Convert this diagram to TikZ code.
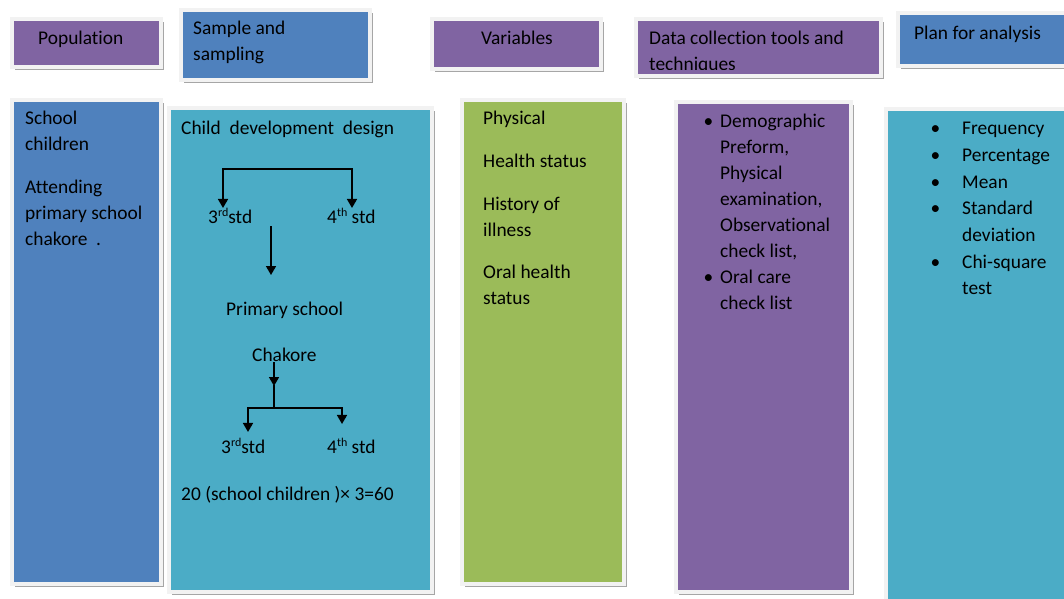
\documentclass[tikz,border=0pt]{standalone}
\usepackage{fontspec}
\setmainfont{Carlito}[Ligatures=NoCommon]
\usetikzlibrary{arrows.meta,shadows}
\definecolor{cpurple}{HTML}{8064A2}
\definecolor{cblue}{HTML}{4F81BD}
\definecolor{cteal}{HTML}{4BACC6}
\definecolor{cgreen}{HTML}{9BBB59}
\definecolor{framegray}{HTML}{F2F2F2}
\definecolor{shadowgray}{HTML}{A6A6A6}
\newcommand{\supx}[1]{\raisebox{7pt}{\fontsize{12}{12}\selectfont #1}}

\begin{document}
\begin{tikzpicture}[x=1pt,y=-1pt,
  card/.style={draw=framegray, line width=4pt, inner sep=0pt, anchor=north west,
    drop shadow={shadow xshift=3pt,shadow yshift=-3pt,fill=shadowgray,opacity=1}},
  txt/.style={anchor=north west, inner sep=0pt, align=left,
    font=\fontsize{19.4}{26}\selectfont, execute at begin node=\strut},
  lbl/.style={anchor=base west, inner sep=0pt, font=\fontsize{19.4}{26}\selectfont},
  link/.style={line width=1.6pt, line cap=rect},
  arr/.style={link, -{Triangle[width=10pt,length=9pt]}}]
  \useasboundingbox (0,0) rectangle (1064,598);
  \clip (0,0) rectangle (1064,598);

  \node[card, fill=cpurple, minimum width=149, minimum height=48] (popH) at (10,17) {};
  \node[card, fill=cblue, minimum width=189, minimum height=70] (sampH) at (179,8) {};
  \node[card, fill=cpurple, minimum width=169, minimum height=50] (varH) at (430,17) {};
  \node[card, fill=cpurple, minimum width=245, minimum height=57] (dataH) at (634,17) {};
  \node[card, fill=cblue, minimum width=180, minimum height=53] (planH) at (896,11) {};

  \node[card, fill=cblue, minimum width=149, minimum height=484] (popB) at (10,98) {};
  \node[card, fill=cteal, minimum width=263, minimum height=484] (sampB) at (167,106) {};
  \node[card, fill=cgreen, minimum width=162, minimum height=484] (varB) at (460,98) {};
  \node[card, fill=cpurple, minimum width=175, minimum height=490] (dataB) at (674,100) {};
  \node[card, fill=cteal, minimum width=190, minimum height=500] (planB) at (884,107) {};

  \node[lbl] (popT) at (38,44) {Population};
  \node[txt] (sampT) at (193,20.5) {Sample and\\sampling};
  \node[lbl] (varT) at (481,44) {Variables};
  \begin{scope}
    \clip ([xshift=2pt,yshift=-2pt]dataH.north west) rectangle (880,69);
    \node[txt] (dataT) at (649,30.5) {Data collection tools and\\techniques};
  \end{scope}
  \node[lbl] (planT) at (914,39) {Plan for analysis};

  \node[txt] (popL) at (25,111) {School\\children\\[17pt]Attending\\primary school\\chakore\ \ .};
  \node[txt] (varL) at (483,111) {Physical\\[17pt]Health status\\[17pt]History of\\illness\\[16pt]Oral health\\status};
  \node[txt] (dataL) at (720,113.5) {\llap{\textbullet\hspace{7pt}}Demographic\\Preform,\\Physical\\examination,\\Observational\\check list,\\\llap{\textbullet\hspace{7pt}}Oral care\\check list};
  \node[txt, font=\fontsize{19.4}{26.7}\selectfont] (planL) at (962,122) {\llap{\textbullet\hspace{22pt}}Frequency\\\llap{\textbullet\hspace{22pt}}Percentage\\\llap{\textbullet\hspace{22pt}}Mean\\\llap{\textbullet\hspace{22pt}}Standard\\deviation\\\llap{\textbullet\hspace{22pt}}Chi-square\\test};

  \node[lbl] (design) at (181,134) {Child\ \ development\ \ design};
  \node[lbl] (third1) at (208,223.5) {3\supx{rd}std};
  \node[lbl] (fourth1) at (327,223.5) {4\supx{th} std};
  \node[lbl] (primary) at (226,315.5) {Primary school};
  \node[lbl] (chakore) at (252,361) {Chakore};
  \node[lbl] (third2) at (221,453.5) {3\supx{rd}std};
  \node[lbl] (fourth2) at (327,453.5) {4\supx{th} std};
  \node[lbl] (total) at (181,500.5) {20 (school children )× 3=60};

  \coordinate (bar1L) at (223,169);
  \coordinate (bar1R) at (352,169);
  \coordinate (midA) at (271,227);
  \coordinate (midB) at (271,275);
  \coordinate (chA) at (274,363);
  \coordinate (chB) at (274,386);
  \coordinate (split) at (274,408);
  \coordinate (bar2L) at (248,408);
  \coordinate (bar2R) at (342,408);

  \draw[arr] (bar1R) -- (bar1L) -- (bar1L |- third1.north);
  \draw[arr] (bar1R) -- (bar1R |- fourth1.north);
  \draw[arr] (midA) -- (midB);
  \draw[arr] (chA) -- (chB);
  \draw[link] (chB) -- (split);
  \draw[arr, shorten >=6pt] (split) -- (bar2L) -- (bar2L |- third2.north);
  \draw[arr, shorten >=14pt] (split) -- (bar2R) -- (bar2R |- fourth2.north);
\end{tikzpicture}
\end{document}
